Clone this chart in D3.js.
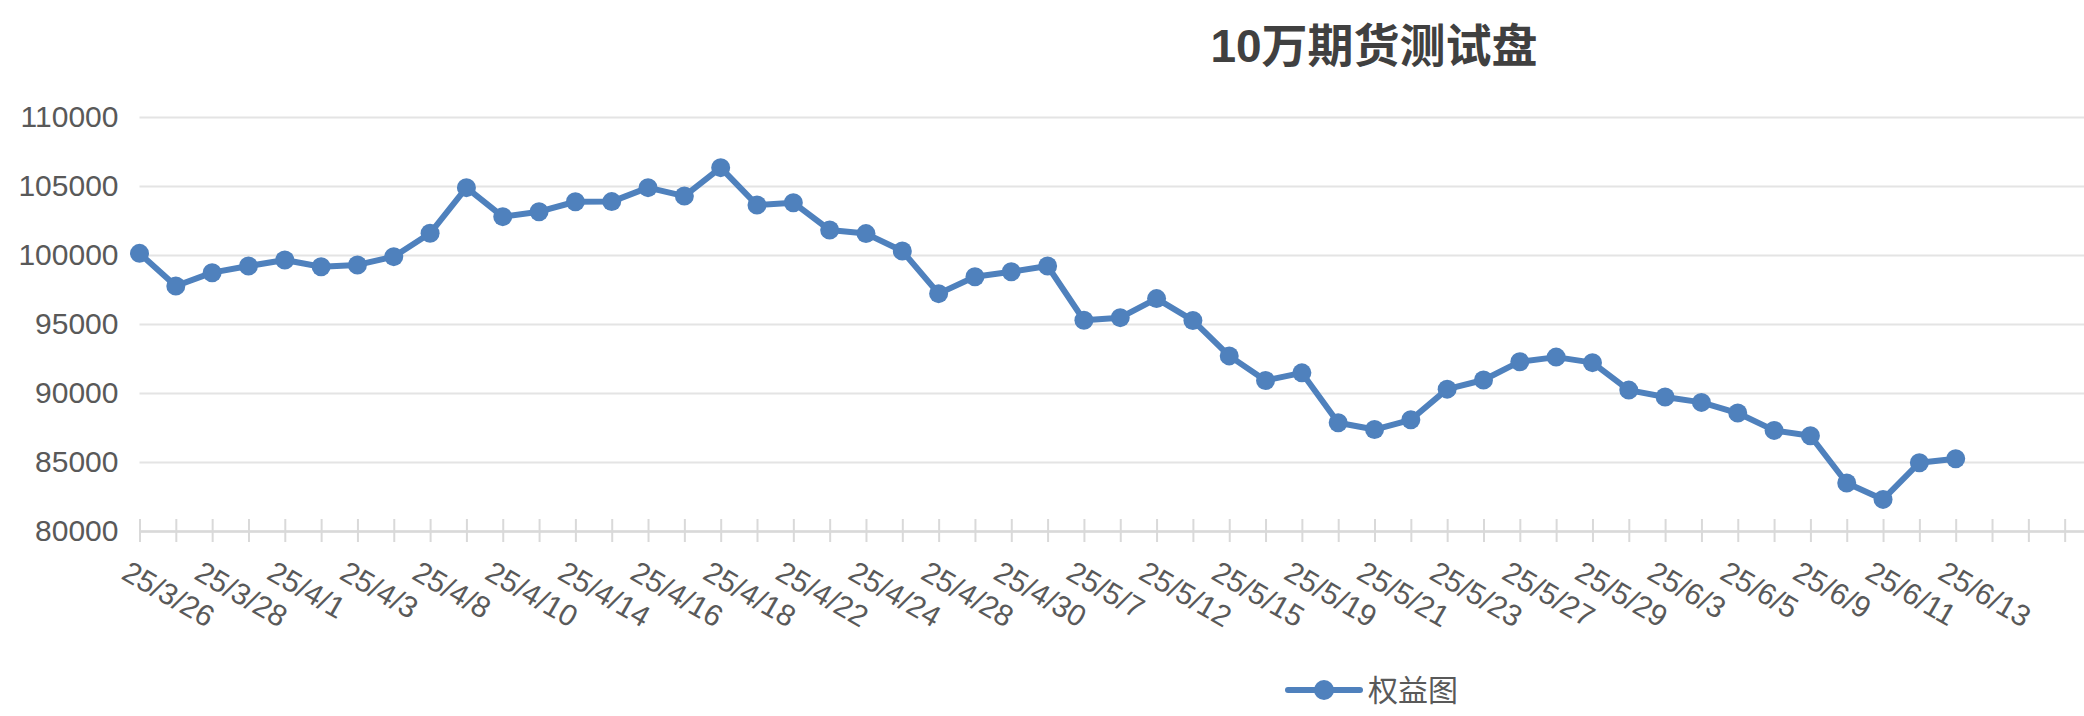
<!DOCTYPE html>
<html>
<head>
<meta charset="utf-8">
<script src="https://cdn.jsdelivr.net/npm/d3@7"></script>
<style>
    body { margin: 0; background: #fff; }
    #chart_canvas { display: block; font-family: "Liberation Sans", Arial, "Noto Sans CJK SC", sans-serif; }
</style>
</head>
<body>
<svg id="chart_canvas" width="2084" height="716"></svg>
<script>

// Chart data
const chartTitle = "10万期货测试盘";
const seriesName = "权益图";
const dates = [
    "25/3/26", "25/3/27", "25/3/28", "25/3/31", "25/4/1", "25/4/2", "25/4/3", "25/4/7", "25/4/8", "25/4/9",
    "25/4/10", "25/4/11", "25/4/14", "25/4/15", "25/4/16", "25/4/17", "25/4/18", "25/4/21", "25/4/22", "25/4/23",
    "25/4/24", "25/4/25", "25/4/28", "25/4/29", "25/4/30", "25/5/6", "25/5/7", "25/5/9", "25/5/12", "25/5/14",
    "25/5/15", "25/5/16", "25/5/19", "25/5/20", "25/5/21", "25/5/22", "25/5/23", "25/5/26", "25/5/27", "25/5/28",
    "25/5/29", "25/5/30", "25/6/3", "25/6/4", "25/6/5", "25/6/6", "25/6/9", "25/6/10", "25/6/11", "25/6/12",
    "25/6/13"
];
const equity = [
    100120, 97750, 98720, 99200, 99640, 99150, 99280, 99880, 101570, 104880,
    102780, 103140, 103860, 103870, 104880, 104270, 106330, 103620, 103790, 101810,
    101550, 100290, 97200, 98430, 98790, 99200, 95270, 95460, 96840, 95260,
    92690, 90910, 91460, 87840, 87350, 88060, 90280, 90940, 92270, 92600,
    92200, 90210, 89710, 89320, 88550, 87290, 86900, 83480, 82290, 84950,
    85230
];
const yTicks = [80000, 85000, 90000, 95000, 100000, 105000, 110000];
// empty category slots left on the axis after the last date
const emptySlots = 4;

class EquityChart {

    /** Build the whole chart */
    static createChart() {

        const blue = "#4f81bd",
              labelColour = "#595959",
              gridColour = "#e4e4e4",
              axisColour = "#d9d9d9";

        const left = 139.5,
              right = 2101,
              top = 117,
              bottom = 531;

        const svg = d3.select("#chart_canvas");

        // Scales
        const x = d3.scaleLinear()
            .domain([0, dates.length - 1 + emptySlots])
            .range([left, right]);
        const y = d3.scaleLinear()
            .domain([yTicks[0], yTicks[yTicks.length - 1]])
            .range([bottom, top]);

        // Gridlines and value labels
        const yAxis = svg.append("g")
            .attr("transform", `translate(${left},0)`)
            .call(d3.axisLeft(y)
                .tickValues(yTicks)
                .tickSize(-(right - left))
                .tickPadding(21)
                .tickFormat(d3.format("d")));
        yAxis.select(".domain").remove();
        yAxis.selectAll(".tick line")
            .attr("stroke", gridColour)
            .attr("stroke-width", 2);
        yAxis.selectAll(".tick text")
            .attr("fill", labelColour)
            .style("font-size", "30px");

        // Category axis
        const xAxis = svg.append("g")
            .attr("transform", `translate(0,${bottom})`)
            .call(d3.axisBottom(x)
                .tickValues(d3.range(0, dates.length + emptySlots))
                .tickSizeOuter(0)
                .tickFormat((i) => (i % 2 === 0 && i < dates.length) ? dates[i] : ""));
        xAxis.select(".domain")
            .attr("stroke", axisColour)
            .attr("stroke-width", 2.5);
        xAxis.selectAll(".tick line")
            .attr("y1", -12)
            .attr("y2", 11)
            .attr("stroke", axisColour)
            .attr("stroke-width", 2);
        xAxis.selectAll(".tick text")
            .attr("x", 0)
            .attr("y", 0)
            .attr("dy", null)
            .attr("text-anchor", "start")
            .attr("transform", "translate(-20,47) rotate(30)")
            .attr("fill", labelColour)
            .style("font-size", "30px");

        // Series line
        const line = d3.line()
            .x((d, i) => x(i))
            .y((d) => y(d));
        svg.append("path")
            .datum(equity)
            .attr("d", line)
            .attr("fill", "none")
            .attr("stroke", blue)
            .attr("stroke-width", 6)
            .attr("stroke-linejoin", "round");

        // Markers
        svg.append("g")
            .selectAll("circle")
            .data(equity)
            .enter()
            .append("circle")
            .attr("cx", (d, i) => x(i))
            .attr("cy", (d) => y(d))
            .attr("r", 9.5)
            .attr("fill", blue);

        // Title
        svg.append("text")
            .attr("x", 1374)
            .attr("y", 62)
            .attr("text-anchor", "middle")
            .attr("fill", "#404040")
            .style("font-size", "46px")
            .style("font-weight", "bold")
            .text(chartTitle);

        // Legend
        const legend = svg.append("g")
            .attr("transform", "translate(1288,690)");
        legend.append("line")
            .attr("x1", 0)
            .attr("x2", 72)
            .attr("stroke", blue)
            .attr("stroke-width", 6)
            .attr("stroke-linecap", "round");
        legend.append("circle")
            .attr("cx", 36)
            .attr("r", 10)
            .attr("fill", blue);
        legend.append("text")
            .attr("x", 80)
            .attr("y", 11)
            .attr("fill", labelColour)
            .style("font-size", "30px")
            .text(seriesName);
    }
}

EquityChart.createChart();
</script>
</body>
</html>
